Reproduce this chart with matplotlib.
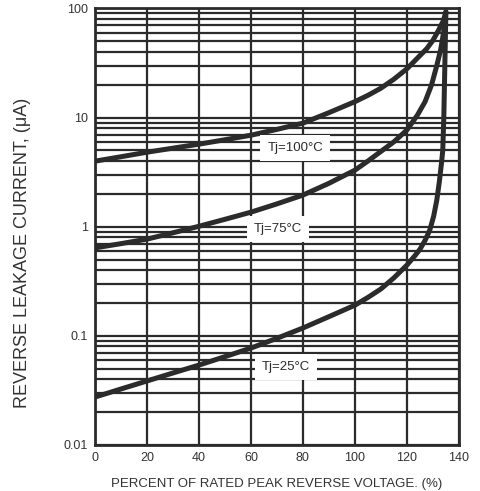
import numpy as np
import matplotlib.pyplot as plt

plt.rcParams['font.family'] = ['Liberation Sans', 'DejaVu Sans']

ink = '#2b2b2b'

# percent of rated peak reverse voltage vs leakage current (uA)
v_100 = [0, 10, 20, 30, 40, 50, 60, 70, 80, 90, 100, 105, 110, 115, 120,
         124, 127.7, 130, 132, 134, 135]
i_100 = [3.99, 4.38, 4.82, 5.25, 5.71, 6.27, 6.90, 7.8, 8.9, 11.1, 14.0, 16.0,
         18.6, 22.5, 28, 35, 43, 51, 62, 77, 93]

v_75 = [0, 10, 20, 30, 40, 50, 60, 70, 80, 90, 100, 105, 110, 115, 120,
        124, 127, 129.5, 131.5, 133, 134.2, 135]
i_75 = [0.64, 0.70, 0.77, 0.88, 1.01, 1.17, 1.36, 1.62, 1.95, 2.5, 3.3, 4.0,
        4.9, 6.0, 7.7, 10.5, 14, 20, 30, 42, 62, 93]

v_25 = [0, 10, 20, 30, 40, 50, 60, 70, 80, 90, 100, 105, 110, 115, 120, 123,
        125, 127, 128.8, 130.3, 131.5, 132.5, 133.3, 133.8, 134.2, 134.6, 135]
i_25 = [0.0275, 0.0326, 0.0386, 0.0457, 0.054, 0.0645, 0.0773, 0.095, 0.118,
        0.15, 0.191, 0.225, 0.269, 0.34, 0.445, 0.54, 0.62, 0.75, 0.93, 1.25,
        1.75, 2.6, 3.8, 5.0, 10, 30, 93]

labels = ['Tj=100°C', 'Tj=75°C', 'Tj=25°C']
label_x = [77, 70.4, 73.5]
label_y = [5.25, 0.95, 0.0523]

fig = plt.figure(figsize=(4.81, 4.91), dpi=100)
ax = fig.add_axes([0.1975, 0.0937, 0.7565, 0.889])

ax.set_yscale('log')
ax.set_xlim(0, 140)
ax.set_ylim(0.01, 100)

ax.set_xticks(np.arange(0, 141, 20))
ax.set_yticks([0.01, 0.1, 1, 10, 100])
ax.set_yticklabels(['0.01', '0.1', '1', '10', '100'])
ax.yaxis.set_minor_formatter(plt.NullFormatter())
ax.tick_params(which='both', length=0, labelsize=9, colors='#333333', pad=5)

ax.grid(True, which='major', color=ink, lw=1.6)
ax.grid(True, which='minor', axis='y', color=ink, lw=1.6)
ax.set_axisbelow(True)
for s in ax.spines.values():
    s.set_color(ink)
    s.set_linewidth(2)

for v, i in [(v_100, i_100), (v_75, i_75), (v_25, i_25)]:
    ax.plot(v, i, color=ink, lw=3.6, solid_capstyle='round',
            solid_joinstyle='round', zorder=3)

for t, x, y in zip(labels, label_x, label_y):
    ax.text(x, y, t, fontsize=9.5, color=ink, ha='center', va='center', zorder=4,
            bbox=dict(facecolor='white', edgecolor='none', pad=5))

ax.set_xlabel('PERCENT OF RATED PEAK REVERSE VOLTAGE. (%)', fontsize=9.5,
              color='#333333', labelpad=10)
ax.set_ylabel('REVERSE LEAKAGE CURRENT, (μA)', fontsize=13, color='#333333')
ax.yaxis.set_label_coords(-0.176, 0.44)

fig.savefig('out.png', dpi=100)
